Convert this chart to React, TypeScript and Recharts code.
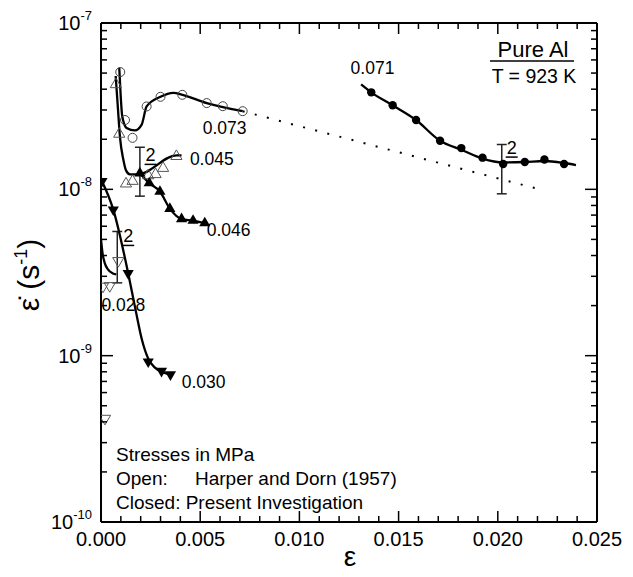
import React from 'react';
import { ComposedChart, Line, Scatter, XAxis, YAxis, ReferenceLine } from 'recharts';

// --- data (strain, strain rate s^-1) ---

// Harper & Dorn, 0.073 MPa (open circles)
const hd073Strain = [0.00097, 0.00121, 0.00159, 0.0023, 0.003, 0.0041, 0.00533, 0.00614, 0.00714];
const hd073Rate = [5.07e-8, 2.61e-8, 2.04e-8, 3.15e-8, 3.6e-8, 3.7e-8, 3.3e-8, 3.16e-8, 2.95e-8];
const hd073FitStrain = [0.00092, 0.00098, 0.00107, 0.00129, 0.00171, 0.00205, 0.0023, 0.003, 0.00364, 0.00411, 0.00533, 0.00714];
const hd073FitRate = [5.38e-8, 3.89e-8, 2.75e-8, 2.34e-8, 2.26e-8, 2.45e-8, 3.15e-8, 3.6e-8, 3.8e-8, 3.7e-8, 3.3e-8, 2.95e-8];

// extrapolation (dotted)
const extrapStrain = [0.00714, 0.0221];
const extrapRate = [2.95e-8, 1.0e-8];

// Harper & Dorn, 0.045 MPa (open up triangles)
const hd045Strain = [0.00075, 0.00092, 0.00126, 0.00159, 0.00238, 0.00275, 0.00313, 0.0038];
const hd045Rate = [4.27e-8, 2.15e-8, 1.08e-8, 1.12e-8, 1.21e-8, 1.23e-8, 1.34e-8, 1.58e-8];
const hd045FitStrain = [0.00074, 0.00084, 0.00096, 0.00112, 0.00126, 0.00146, 0.00186, 0.00381, 0.00406];
const hd045FitRate = [4.8e-8, 3.23e-8, 2.04e-8, 1.52e-8, 1.3e-8, 1.23e-8, 1.23e-8, 1.6e-8, 1.6e-8];

// present, 0.046 MPa (filled up triangles)
const pr046Strain = [0.00196, 0.00243, 0.00297, 0.00347, 0.00406, 0.00464, 0.00523];
const pr046Rate = [1.25e-8, 1.09e-8, 9.7e-9, 7.65e-9, 6.63e-9, 6.48e-9, 6.26e-9];

// Harper & Dorn, 0.028 MPa (open down triangles)
const hd028Strain = [0.00087, 0.0001, 0.00044, 0.0002];
const hd028Rate = [3.72e-9, 2.61e-9, 2.63e-9, 4.19e-10];
const hd028FitStrain = [0.0, 0.00008, 0.00019, 0.00035, 0.0006, 0.00077];
const hd028FitRate = [5.0e-9, 4.11e-9, 3.6e-9, 3.3e-9, 3.12e-9, 3.08e-9];

// present, 0.030 MPa (filled down triangles)
const pr030Strain = [0.00005, 0.00062, 0.00137, 0.00238, 0.00305, 0.0035];
const pr030Rate = [1.12e-8, 7.55e-9, 3.13e-9, 9.2e-10, 8.09e-10, 7.7e-10];
const pr030FitStrain = [0.0, 0.00062, 0.00137, 0.00176, 0.00206, 0.00238, 0.00272, 0.00305, 0.0035];
const pr030FitRate = [1.15e-8, 7.55e-9, 3.13e-9, 1.84e-9, 1.25e-9, 9.6e-10, 8.47e-10, 8.0e-10, 7.69e-10];

// present, 0.071 MPa (filled circles)
const pr071Strain = [0.01362, 0.0147, 0.01588, 0.01709, 0.01816, 0.01923, 0.02027, 0.02136, 0.02235, 0.02334];
const pr071Rate = [3.83e-8, 3.2e-8, 2.61e-8, 1.96e-8, 1.77e-8, 1.55e-8, 1.42e-8, 1.46e-8, 1.51e-8, 1.42e-8];
const pr071FitStrain = [0.01311, 0.01362, 0.0147, 0.01588, 0.01709, 0.01816, 0.01923, 0.02027, 0.02136, 0.02235, 0.02334, 0.02394];
const pr071FitRate = [4.27e-8, 3.83e-8, 3.2e-8, 2.61e-8, 1.96e-8, 1.73e-8, 1.53e-8, 1.45e-8, 1.46e-8, 1.48e-8, 1.44e-8, 1.4e-8];

// scatter bands (2 = two specimens)
const barStrain = [0.00196, 0.00082, 0.0202];
const barLow = [9.1e-9, 2.74e-9, 9.4e-9];
const barHigh = [1.79e-8, 5.58e-9, 1.86e-8];
const barLabelStrain = [0.0025, 0.00137, 0.0207];
const barLabelRate = [1.6e-8, 5.21e-9, 1.77e-8];
const barLabelText = ['2', '2', '2'];

// stress labels (MPa)
const stressLabelText = ['0.073', '0.045', '0.046', '0.028', '0.030', '0.071'];
const stressLabelStrain = [0.00513, 0.00448, 0.00533, 0.00002, 0.00407, 0.01258];
const stressLabelRate = [2.33e-8, 1.52e-8, 5.66e-9, 2.03e-9, 6.97e-10, 5.36e-8];

// axes
const xTicks = [
  0, 0.001, 0.002, 0.003, 0.004, 0.005, 0.006, 0.007, 0.008, 0.009, 0.01, 0.011, 0.012, 0.013,
  0.014, 0.015, 0.016, 0.017, 0.018, 0.019, 0.02, 0.021, 0.022, 0.023, 0.024, 0.025,
];
const yTicks = [
  1e-10, 2e-10, 3e-10, 4e-10, 5e-10, 6e-10, 7e-10, 8e-10, 9e-10,
  1e-9, 2e-9, 3e-9, 4e-9, 5e-9, 6e-9, 7e-9, 8e-9, 9e-9,
  1e-8, 2e-8, 3e-8, 4e-8, 5e-8, 6e-8, 7e-8, 8e-8, 9e-8, 1e-7,
];

const FONT = '"Liberation Sans", Arial, sans-serif';

const pts = (xs: number[], ys: number[]) => xs.map((x, i) => ({ x, y: ys[i] }));
const labelPts = (xs: number[], ys: number[], t: string[]) => xs.map((x, i) => ({ x, y: ys[i], text: t[i] }));

const isMajorX = (v: number) => Math.abs(v / 0.005 - Math.round(v / 0.005)) < 1e-6;
const isMajorY = (v: number) => Math.abs(Math.log10(v) - Math.round(Math.log10(v))) < 1e-6;

// ticks point into the plot
const XTick = (props: any) => {
  const { x, y, payload, side } = props;
  const v = payload.value;
  const major = isMajorX(v);
  const len = major ? 11 : 6;
  const dir = side === 'bottom' ? -1 : 1;
  return (
    <g>
      <path d={`M${x},${y}L${x},${y + dir * len}`} stroke="#000" strokeWidth={1.5} fill="none" />
      {side === 'bottom' && major && (
        <text x={x} y={y + 24} textAnchor="middle" fontSize={20} fontFamily={FONT} fill="#000">
          {v.toFixed(3)}
        </text>
      )}
    </g>
  );
};

const YTick = (props: any) => {
  const { x, y, payload, side } = props;
  const v = payload.value;
  const major = isMajorY(v);
  const len = major ? 12 : 6;
  const dir = side === 'left' ? 1 : -1;
  return (
    <g>
      <path d={`M${x},${y}L${x + dir * len},${y}`} stroke="#000" strokeWidth={1.5} fill="none" />
      {side === 'left' && major && (
        <text x={x - 9} y={y + 7} textAnchor="end" fontSize={20} fontFamily={FONT} fill="#000">
          10
          <tspan dy={-10} fontSize={13}>
            {Math.round(Math.log10(v))}
          </tspan>
        </text>
      )}
    </g>
  );
};

const OpenCircle = (p: any) => <circle cx={p.cx} cy={p.cy} r={4.5} fill="none" stroke="#444" strokeWidth={1} />;
const FilledCircle = (p: any) => <circle cx={p.cx} cy={p.cy} r={4.2} fill="#000" />;
const tri = (cx: number, cy: number, up: boolean) => {
  const s = up ? 1 : -1;
  return `${cx},${cy - 6.4 * s} ${cx - 5.6},${cy + 3.2 * s} ${cx + 5.6},${cy + 3.2 * s}`;
};
const OpenUp = (p: any) => <polygon points={tri(p.cx, p.cy, true)} fill="none" stroke="#555" strokeWidth={1} />;
const FilledUp = (p: any) => <polygon points={tri(p.cx, p.cy, true)} fill="#000" />;
const OpenDown = (p: any) => <polygon points={tri(p.cx, p.cy, false)} fill="none" stroke="#555" strokeWidth={1} />;
const FilledDown = (p: any) => <polygon points={tri(p.cx, p.cy, false)} fill="#000" />;

const StressLabel = (p: any) => (
  <text x={p.cx} y={p.cy + 6} fontSize={17.5} fontFamily={FONT} fill="#000">
    {p.payload.text}
  </text>
);
const BarLabel = (p: any) => (
  <g>
    <text x={p.cx} y={p.cy + 6} textAnchor="middle" fontSize={18} fontFamily={FONT} fill="#000">
      {p.payload.text}
    </text>
    <line x1={p.cx - 6} x2={p.cx + 6} y1={p.cy + 9} y2={p.cy + 9} stroke="#000" strokeWidth={1.5} />
  </g>
);

const capHalf = 0.00025;

export default function App() {
  return (
    <div style={{ position: 'absolute', left: 0, top: 0, width: 633, height: 577 }}>
      <ComposedChart width={633} height={577} margin={{ top: 22, right: 35, bottom: 25, left: 41 }}>
        <XAxis
          dataKey="x"
          type="number"
          domain={[0, 0.025]}
          ticks={xTicks}
          interval={0}
          allowDataOverflow
          height={30}
          tickLine={false}
          tickSize={0}
          tickMargin={0}
          axisLine={{ stroke: '#000', strokeWidth: 2 }}
          tick={(p: any) => <XTick {...p} side="bottom" />}
        />
        <XAxis
          xAxisId="top"
          orientation="top"
          dataKey="x"
          type="number"
          domain={[0, 0.025]}
          ticks={xTicks}
          interval={0}
          allowDataOverflow
          height={1}
          tickLine={false}
          tickSize={0}
          tickMargin={0}
          axisLine={{ stroke: '#000', strokeWidth: 2 }}
          tick={(p: any) => <XTick {...p} side="top" />}
        />
        <YAxis
          type="number"
          scale="log"
          domain={[1e-10, 1e-7]}
          ticks={yTicks}
          interval={0}
          allowDataOverflow
          width={60}
          tickLine={false}
          tickSize={0}
          tickMargin={0}
          axisLine={{ stroke: '#000', strokeWidth: 2 }}
          tick={(p: any) => <YTick {...p} side="left" />}
        />
        <YAxis
          yAxisId="right"
          orientation="right"
          type="number"
          scale="log"
          domain={[1e-10, 1e-7]}
          ticks={yTicks}
          interval={0}
          allowDataOverflow
          width={1}
          tickLine={false}
          tickSize={0}
          tickMargin={0}
          axisLine={{ stroke: '#000', strokeWidth: 2 }}
          tick={(p: any) => <YTick {...p} side="right" />}
        />

        {/* scatter bands */}
        {barStrain.map((x, i) => (
          <ReferenceLine key={`b${i}`} segment={[{ x, y: barLow[i] }, { x, y: barHigh[i] }]} stroke="#222" strokeWidth={1.5} />
        ))}
        {barStrain.map((x, i) => (
          <ReferenceLine key={`l${i}`} segment={[{ x: x - capHalf, y: barLow[i] }, { x: x + capHalf, y: barLow[i] }]} stroke="#222" strokeWidth={1.5} />
        ))}
        {barStrain.map((x, i) => (
          <ReferenceLine key={`h${i}`} segment={[{ x: x - capHalf, y: barHigh[i] }, { x: x + capHalf, y: barHigh[i] }]} stroke="#222" strokeWidth={1.5} />
        ))}

        {/* fitted curves */}
        <Line data={pts(hd073FitStrain, hd073FitRate)} dataKey="y" type="monotone" stroke="#000" strokeWidth={2.3} dot={false} isAnimationActive={false} />
        <Line data={pts(extrapStrain, extrapRate)} dataKey="y" type="linear" stroke="#000" strokeWidth={2} strokeDasharray="2 10.5" dot={false} isAnimationActive={false} />
        <Line data={pts(hd045FitStrain, hd045FitRate)} dataKey="y" type="monotone" stroke="#000" strokeWidth={2.3} dot={false} isAnimationActive={false} />
        <Line data={pts(pr046Strain, pr046Rate)} dataKey="y" type="monotone" stroke="#000" strokeWidth={2.3} dot={false} isAnimationActive={false} />
        <Line data={pts(hd028FitStrain, hd028FitRate)} dataKey="y" type="monotone" stroke="#000" strokeWidth={2.3} dot={false} isAnimationActive={false} />
        <Line data={pts(pr030FitStrain, pr030FitRate)} dataKey="y" type="monotone" stroke="#000" strokeWidth={2.3} dot={false} isAnimationActive={false} />
        <Line data={pts(pr071FitStrain, pr071FitRate)} dataKey="y" type="monotone" stroke="#000" strokeWidth={2.3} dot={false} isAnimationActive={false} />

        {/* measured points */}
        <Scatter data={pts(hd073Strain, hd073Rate)} dataKey="y" shape={OpenCircle} isAnimationActive={false} />
        <Scatter data={pts(hd045Strain, hd045Rate)} dataKey="y" shape={OpenUp} isAnimationActive={false} />
        <Scatter data={pts(pr046Strain, pr046Rate)} dataKey="y" shape={FilledUp} isAnimationActive={false} />
        <Scatter data={pts(hd028Strain, hd028Rate)} dataKey="y" shape={OpenDown} isAnimationActive={false} />
        <Scatter data={pts(pr030Strain, pr030Rate)} dataKey="y" shape={FilledDown} isAnimationActive={false} />
        <Scatter data={pts(pr071Strain, pr071Rate)} dataKey="y" shape={FilledCircle} isAnimationActive={false} />

        {/* annotations */}
        <Scatter data={labelPts(stressLabelStrain, stressLabelRate, stressLabelText)} dataKey="y" shape={StressLabel} isAnimationActive={false} />
        <Scatter data={labelPts(barLabelStrain, barLabelRate, barLabelText)} dataKey="y" shape={BarLabel} isAnimationActive={false} />
      </ComposedChart>

      <svg width={633} height={577} style={{ position: 'absolute', left: 0, top: 0, pointerEvents: 'none' }} fontFamily={FONT}>
        <text x={533} y={57} textAnchor="middle" fontSize={22}>Pure Al</text>
        <line x1={490} x2={574} y1={61} y2={61} stroke="#000" strokeWidth={1.5} />
        <text x={534} y={83} textAnchor="middle" fontSize={19.5}>T = 923 K</text>

        <text x={116} y={461} fontSize={19}>Stresses in MPa</text>
        <text x={116} y={485} fontSize={19}>Open:</text>
        <text x={195} y={485} fontSize={19}>Harper and Dorn (1957)</text>
        <text x={116} y={509} fontSize={19}>Closed: Present Investigation</text>

        <text x={350} y={566} textAnchor="middle" fontSize={28}>ε</text>

        <g transform="translate(39,275) rotate(-90)">
          <text x={0} y={0} textAnchor="middle" fontSize={30}>
            ε̇ (s<tspan dy={-12} fontSize={18}>-1</tspan><tspan dy={12}>)</tspan>
          </text>
        </g>
      </svg>
    </div>
  );
}
